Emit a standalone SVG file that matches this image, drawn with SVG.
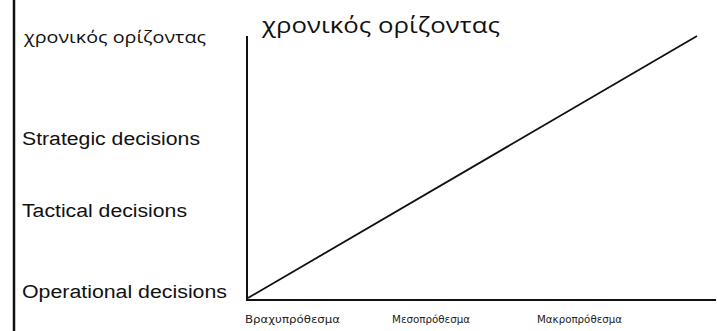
<svg xmlns="http://www.w3.org/2000/svg" width="717" height="331" viewBox="0 0 717 331">
<style>
.lbl{font-family:"Liberation Sans",Arial,sans-serif;font-size:18px;fill:#111}
.gr{font-family:"Open Sans","DejaVu Sans",sans-serif;fill:#111}
.ax{font-family:"DejaVu Sans","Liberation Sans",sans-serif;font-size:10px;fill:#222}
.ln{stroke:#111;fill:none}
</style>
<rect width="717" height="331" fill="#fff"/>
<line class="ln" x1="14" y1="0" x2="14" y2="331" stroke-width="2.5"/>
<g id="title-small"><text class="gr" x="24" y="43" font-size="16" textLength="182" lengthAdjust="spacingAndGlyphs">χρονικός ορίζοντας</text></g>
<g id="title-big"><text class="gr" x="262" y="33" font-size="22" textLength="238" lengthAdjust="spacingAndGlyphs">χρονικός ορίζοντας</text></g>
<g id="strategic"><text class="lbl" x="22" y="145" textLength="178" lengthAdjust="spacingAndGlyphs">Strategic decisions</text></g>
<g id="tactical"><text class="lbl" x="22" y="217" textLength="165" lengthAdjust="spacingAndGlyphs">Tactical decisions</text></g>
<g id="operational"><text class="lbl" x="22" y="298" textLength="205" lengthAdjust="spacingAndGlyphs">Operational decisions</text></g>
<g id="axis-labels">
<text class="ax" x="245" y="323" textLength="95" lengthAdjust="spacingAndGlyphs">Βραχυπρόθεσμα</text>
<text class="ax" x="392" y="323" textLength="78" lengthAdjust="spacingAndGlyphs">Μεσοπρόθεσμα</text>
<text class="ax" x="537" y="323" textLength="85" lengthAdjust="spacingAndGlyphs">Μακροπρόθεσμα</text>
</g>
<g id="connectors">
<line class="ln" x1="247" y1="36" x2="247" y2="300" stroke-width="2"/>
<line class="ln" x1="246" y1="300" x2="716" y2="300" stroke-width="2"/>
<line class="ln" x1="248" y1="298" x2="697" y2="36" stroke-width="1.8"/>
</g>
</svg>
